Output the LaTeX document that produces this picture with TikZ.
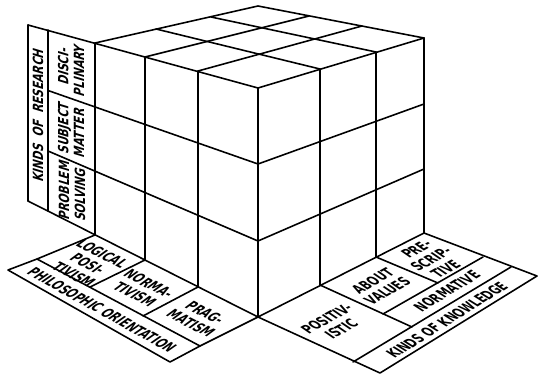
\documentclass[tikz,border=0pt]{standalone}
\usepackage{fontspec}
\newfontfamily\lettering{DejaVu Sans}[FakeStretch=0.76]
\begin{document}
\begin{tikzpicture}[x=0.02cm, y=-0.02cm]
  \tikzset{
    edge/.style={line width=0.9pt, line join=round, line cap=round},
    lbl/.style={font=\lettering\bfseries\fontsize{8}{9}\selectfont, align=center, inner sep=0pt},
    wall/.style={lbl, rotate=90, xslant=0.3},
    floorL/.style={lbl, rotate=-27, xslant=0.5},
    floorR/.style={lbl, rotate=29, xslant=-0.5},
  }
  \useasboundingbox (0,0) rectangle (540,375);
  % Cube: left face (with the research panel)
  \foreach \x/\t/\b in {95/43/235, 145/57/260, 198/71/287, 258/88/317}
    \draw[edge] (\x,\t) -- (\x,\b);
  \draw[edge] (28,25) -- (258,88);
  \draw[edge] (48,90.5) -- (258,164);
  \draw[edge] (48,151) -- (258,241);
  \draw[edge] (28,201) -- (258,317);
  \draw[edge] (28,25) -- (28,201);
  \draw[edge] (48,30) -- (48,211);
  % Cube: right face
  \foreach \x/\t/\b in {320/69/285, 376/52/257, 424/38/233}
    \draw[edge] (\x,\t) -- (\x,\b);
  \foreach \l/\r in {88/38, 164/104, 241/169, 317/233}
    \draw[edge] (258,\l) -- (424,\r);
  % Cube: top face
  \draw[edge] (95,43) -- (258,6) -- (424,38);
  \draw[edge] (145,57) -- (309,16);
  \draw[edge] (198,71) -- (362,26);
  \draw[edge] (320,69) -- (156,29);
  \draw[edge] (376,52) -- (211,17);
  % Floor, left: philosophic orientation
  \draw[edge] (95,235) -- (37,259) -- (8,270) -- (170,362) -- (200,346) -- (258,317);
  \draw[edge] (37,259) -- (200,346);
  \draw[edge] (145,260) -- (90,287);
  \draw[edge] (198,287) -- (143,316);
  % Floor, right: kinds of knowledge
  \draw[edge] (258,317) -- (380,373) -- (537,276) -- (424,233);
  \draw[edge] (353,362) -- (511,267);
  \draw[edge] (383,314) -- (483,257);
  \draw[edge] (320,285) -- (412,327);
  \draw[edge] (376,257) -- (438,283);
  % Labels
  \node[wall] (research) at (38,115) {KINDS\ \ OF\ \ RESEARCH};
  \node[wall] (discipl)  at (71,68)  {DISCI-\\PLINARY};
  \node[wall] (subject)  at (71,130) {SUBJECT\\MATTER};
  \node[wall] (problem)  at (72,192) {PROBLEM\\SOLVING};
  \node[floorL] (logpos)  at (88,264)  {LOGICAL\\POSI-\\TIVISM};
  \node[floorL] (normat)  at (142,289) {NORMA-\\TIVISM};
  \node[floorL] (pragma)  at (198,318) {PRAG-\\MATISM};
  \node[floorL, rotate=-2] (philo) at (102,310) {PHILOSOPHIC ORIENTATION};
  \node[floorR] (positiv) at (334,324) {POSITIV-\\ISTIC};
  \node[floorR] (values)  at (380,286) {ABOUT\\VALUES};
  \node[floorR] (prescr)  at (431,259) {PRE-\\SCRIP-\\TIVE};
  \node[floorR, rotate=2] (normtv) at (447,291) {NORMATIVE};
  \node[floorR, rotate=3] (knowl)  at (447,320) {KINDS OF KNOWLEDGE};
\end{tikzpicture}
\end{document}
